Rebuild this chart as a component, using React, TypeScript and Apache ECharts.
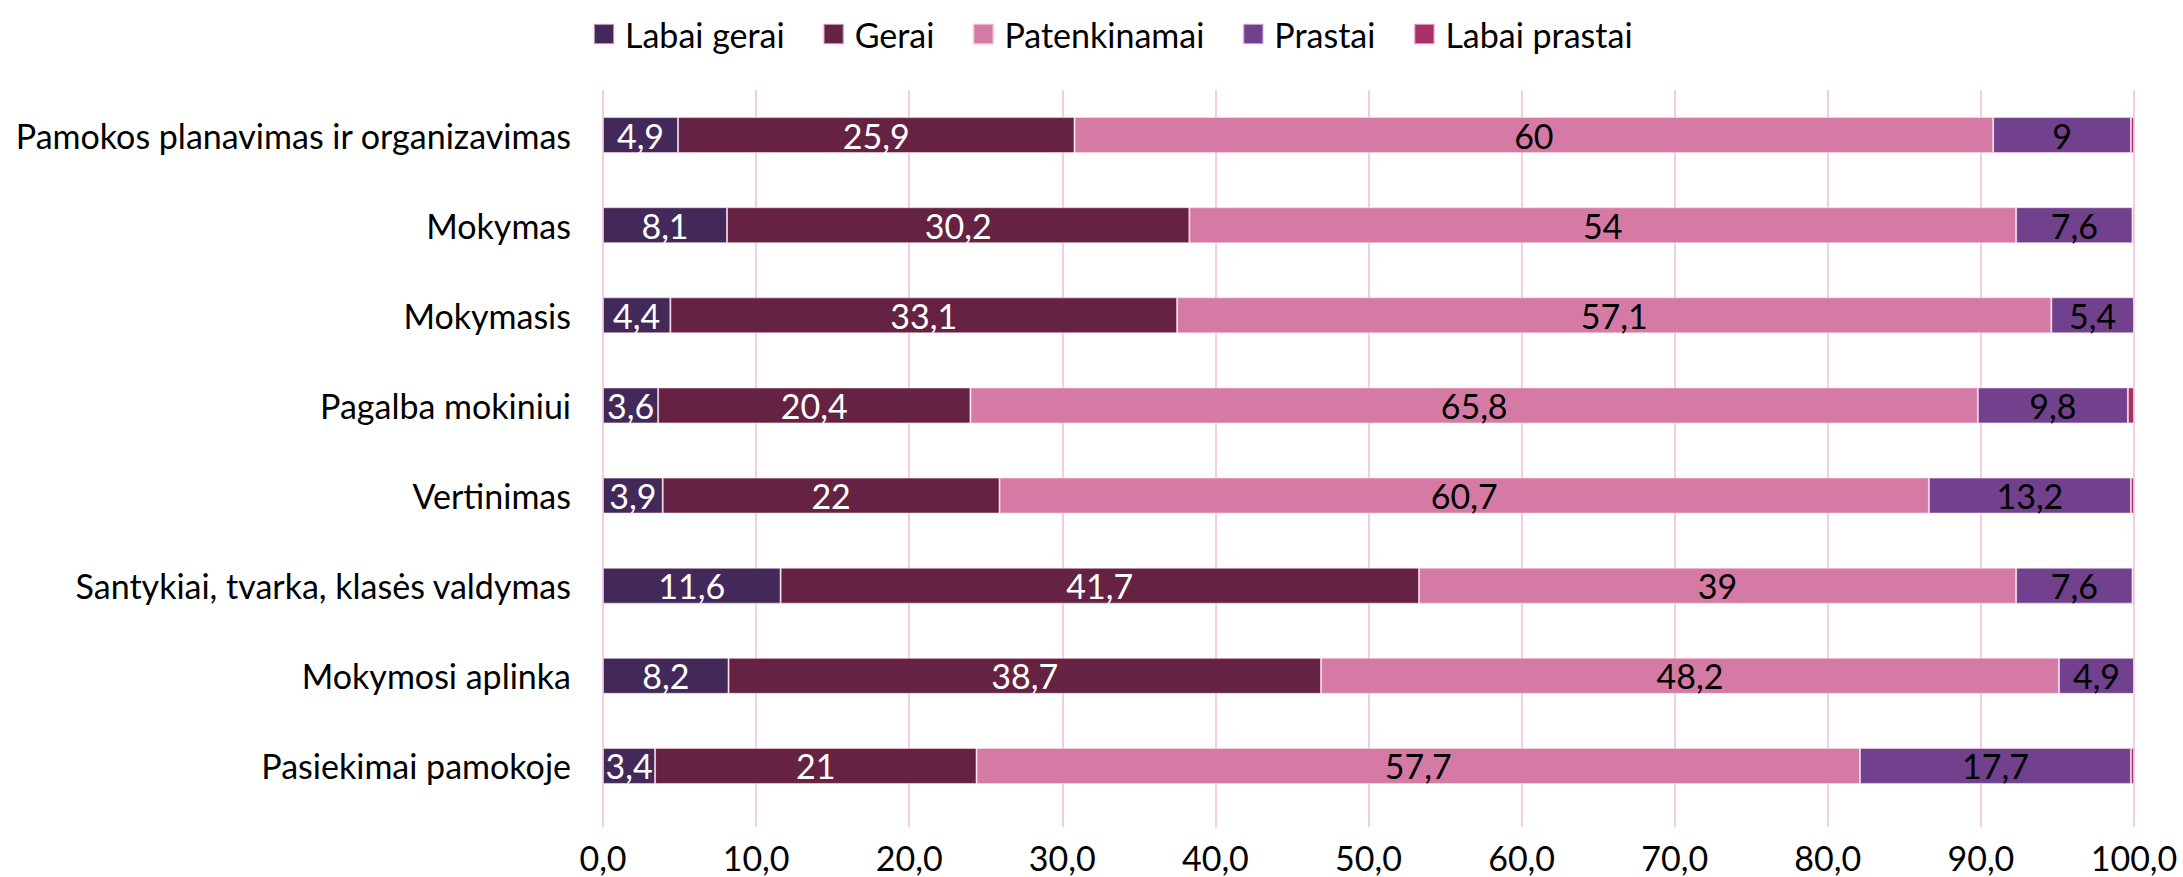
import React, { useEffect, useRef } from "react";
import * as echarts from "echarts";

const categories = [
  "Pamokos planavimas ir organizavimas",
  "Mokymas",
  "Mokymasis",
  "Pagalba mokiniui",
  "Vertinimas",
  "Santykiai, tvarka, klasės valdymas",
  "Mokymosi aplinka",
  "Pasiekimai pamokoje",
];

const labaiGerai = [4.9, 8.1, 4.4, 3.6, 3.9, 11.6, 8.2, 3.4];
const gerai = [25.9, 30.2, 33.1, 20.4, 22, 41.7, 38.7, 21];
const patenkinamai = [60, 54, 57.1, 65.8, 60.7, 39, 48.2, 57.7];
const prastai = [9, 7.6, 5.4, 9.8, 13.2, 7.6, 4.9, 17.7];
const labaiPrastai = [0.2, 0.1, 0, 0.4, 0.2, 0.1, 0, 0.2];

const xTicks = { min: 0, max: 100, interval: 10 };

const seriesNames = ["Labai gerai", "Gerai", "Patenkinamai", "Prastai", "Labai prastai"];
const seriesColors = ["#43295a", "#662242", "#d57aa4", "#71418d", "#a83068"];
const labelColors = ["#ffffff", "#ffffff", "#000000", "#000000", "#000000"];
const seriesData = [labaiGerai, gerai, patenkinamai, prastai, labaiPrastai];

const FONT = "Lato, 'Open Sans', sans-serif";

const fmt = (v: number) => String(v).replace(".", ",");

export default function App() {
  const ref = useRef<HTMLDivElement>(null);
  useEffect(() => {
    if (!ref.current) return;
    const chart = echarts.init(ref.current, null, { renderer: "svg" });
    chart.setOption({
      animation: false,
      backgroundColor: "#ffffff",
      textStyle: { fontFamily: FONT },
      legend: {
        top: 12,
        left: 588,
        itemWidth: 20,
        itemHeight: 20,
        itemGap: 38,
        icon: "rect",
        textStyle: { fontSize: 34, color: "#000", fontFamily: FONT, padding: [0, 0, 0, 6] },
        data: seriesNames,
      },
      grid: { left: 603, right: 49, top: 90, bottom: 66, containLabel: false },
      xAxis: {
        type: "value",
        min: xTicks.min,
        max: xTicks.max,
        interval: xTicks.interval,
        axisLine: { show: false },
        axisTick: { show: true, length: 16, lineStyle: { color: "#f0cfe0", width: 2 } },
        splitLine: { show: true, lineStyle: { color: "#f0cfe0", width: 2 } },
        axisLabel: {
          fontSize: 34,
          color: "#000",
          fontFamily: FONT,
          margin: 29,
          formatter: (v: number) => v.toFixed(1).replace(".", ","),
        },
      },
      yAxis: {
        type: "category",
        data: categories,
        inverse: true,
        axisLine: { show: false },
        axisTick: { show: false },
        axisLabel: { fontSize: 34, color: "#000", fontFamily: FONT, margin: 32 },
      },
      series: seriesNames.map((name, i) => ({
        name,
        type: "bar",
        stack: "total",
        barWidth: 36,
        data: seriesData[i],
        itemStyle: { color: seriesColors[i], borderColor: "rgba(255,220,235,0.6)", borderWidth: 1 },
        label: {
          show: i < 4,
          position: "inside",
          color: labelColors[i],
          fontSize: 34,
          fontFamily: FONT,
          formatter: (p: any) => fmt(p.value),
        },
      })),
    });
    return () => chart.dispose();
  }, []);
  return <div ref={ref} style={{ position: "fixed", left: 0, top: 0, width: 2183, height: 877 }} />;
}
